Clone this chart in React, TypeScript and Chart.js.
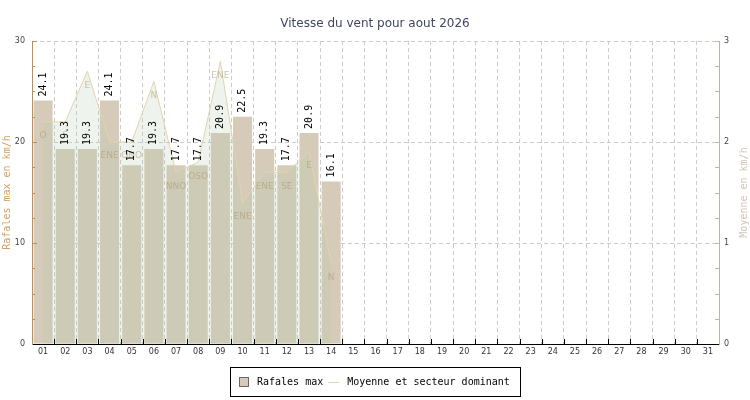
import React, { useEffect, useRef } from 'react';
import { Chart, registerables } from 'chart.js';

Chart.register(...registerables);

const days = ['01', '02', '03', '04', '05', '06', '07', '08', '09', '10', '11', '12', '13', '14', '15', '16',
  '17', '18', '19', '20', '21', '22', '23', '24', '25', '26', '27', '28', '29', '30', '31'];

const gusts: (number | null)[] = [24.1, 19.3, 19.3, 24.1, 17.7, 19.3, 17.7, 17.7, 20.9, 22.5, 19.3, 17.7, 20.9, 16.1,
  null, null, null, null, null, null, null, null, null, null, null, null, null, null, null, null, null];

const meanSpeed: (number | null)[] = [2.2, 2.2, 2.7, 2.0, 2.0, 2.6, 1.7, 1.8, 2.8, 1.4, 1.7, 1.7, 1.9, 0.8,
  null, null, null, null, null, null, null, null, null, null, null, null, null, null, null, null, null];

const directions: string[] = ['O', 'S', 'E', 'ENE', 'ONO', 'N', 'NNO', 'OSO', 'ENE', 'ENE', 'ENE', 'SE', 'E', 'N'];

const seriesNames = ['Rafales max', 'Moyenne et secteur dominant'];
const chartTitle = 'Vitesse du vent pour aout 2026';
const leftAxisTitle = 'Rafales max en km/h';
const rightAxisTitle = 'Moyenne en km/h';

const BAR_COLOR = '#d6cbb9';
const AREA_FILL = 'rgba(168,198,166,0.2)';
const AREA_LINE = '#e2d3b0';
const LEFT_AXIS = '#c88c46';
const LEFT_TITLE = '#d49e62';
const RIGHT_AXIS = '#beb4a5';
const RIGHT_TITLE = '#cfc5b6';
const GRID = '#cccccc';
const MONO = '"DejaVu Sans Mono", monospace';
const SANS = '"DejaVu Sans", sans-serif';

const decorPlugin = {
  id: 'decor',
  afterDatasetsDraw(chart: any) {
    const ctx = chart.ctx as CanvasRenderingContext2D;
    // direction labels under the mean points
    const lineMeta = chart.getDatasetMeta(1);
    ctx.save();
    ctx.font = `9px ${SANS}`;
    ctx.fillStyle = 'rgba(170,150,110,0.55)';
    ctx.textAlign = 'center';
    ctx.textBaseline = 'middle';
    directions.forEach((d, i) => {
      const p = lineMeta.data[i];
      if (!p || meanSpeed[i] == null) return;
      ctx.fillText(d, p.x, p.y + 14);
    });
    ctx.restore();

    // value labels above bars
    const barMeta = chart.getDatasetMeta(0);
    ctx.save();
    ctx.font = `10px ${MONO}`;
    ctx.fillStyle = '#000';
    ctx.textAlign = 'left';
    ctx.textBaseline = 'middle';
    gusts.forEach((v, i) => {
      if (v == null) return;
      const b = barMeta.data[i];
      ctx.save();
      ctx.translate(b.x, b.y - 4);
      ctx.rotate(-Math.PI / 2);
      ctx.fillText(v.toFixed(1), 0, 0);
      ctx.restore();
    });
    ctx.restore();
  },
  afterDraw(chart: any) {
    const ctx = chart.ctx as CanvasRenderingContext2D;
    const { left, right, top, bottom } = chart.chartArea;
    const xs = chart.scales.x;
    const ys = chart.scales.y;
    const y1 = chart.scales.y1;

    ctx.save();
    ctx.lineWidth = 1;
    // x inward ticks at category boundaries
    ctx.strokeStyle = '#000';
    const step = xs.getPixelForValue(1) - xs.getPixelForValue(0);
    ctx.beginPath();
    for (let i = 1; i < days.length; i++) {
      const px = Math.round(xs.getPixelForValue(i) - step / 2) + 0.5;
      ctx.moveTo(px, bottom);
      ctx.lineTo(px, bottom - 5);
    }
    ctx.stroke();

    // left axis inward ticks
    ctx.strokeStyle = LEFT_AXIS;
    ctx.beginPath();
    for (let v = 2.5; v <= ys.max + 0.001; v += 2.5) {
      const py = Math.round(ys.getPixelForValue(v)) + 0.5;
      const len = Math.abs(v % 10) < 0.001 ? 5 : 3;
      ctx.moveTo(left, py);
      ctx.lineTo(left + len, py);
    }
    ctx.stroke();

    // right axis inward ticks
    ctx.strokeStyle = RIGHT_AXIS;
    ctx.beginPath();
    for (let v = 0.25; v <= y1.max + 0.001; v += 0.25) {
      const py = Math.round(y1.getPixelForValue(v)) + 0.5;
      ctx.moveTo(right, py);
      ctx.lineTo(right - 4, py);
    }
    ctx.stroke();

    // right axis title (reads bottom to top)
    ctx.font = `10px ${MONO}`;
    ctx.fillStyle = RIGHT_TITLE;
    ctx.textAlign = 'center';
    ctx.textBaseline = 'middle';
    ctx.save();
    ctx.translate(chart.width - 6, (top + bottom) / 2);
    ctx.rotate(-Math.PI / 2);
    ctx.fillText(rightAxisTitle, 0, 0);
    ctx.restore();

    // legend box
    ctx.font = `10px ${MONO}`;
    const w1 = ctx.measureText(seriesNames[0]).width;
    const w2 = ctx.measureText(seriesNames[1]).width;
    const padL = 9, sq = 10, gap1 = 8, gap2 = 5, lineLen = 11, gap3 = 8, padR = 10;
    const total = padL + sq + gap1 + w1 + gap2 + lineLen + gap3 + w2 + padR;
    const bx = Math.round(chart.width / 2 - total / 2);
    const by = 367;
    const bh = 29;
    ctx.strokeStyle = '#000';
    ctx.strokeRect(bx + 0.5, by + 0.5, Math.round(total), bh);
    const cy = by + bh / 2 + 0.5;
    let cx = bx + padL;
    ctx.fillStyle = BAR_COLOR;
    ctx.fillRect(cx, cy - 5, sq, sq);
    ctx.strokeStyle = '#666';
    ctx.strokeRect(cx + 0.5, cy - 4.5, sq - 1, sq - 1);
    cx += sq + gap1;
    ctx.fillStyle = '#000';
    ctx.textAlign = 'left';
    ctx.fillText(seriesNames[0], cx, cy);
    cx += w1 + gap2;
    ctx.strokeStyle = AREA_LINE;
    ctx.beginPath();
    ctx.moveTo(cx, Math.round(cy) + 0.5);
    ctx.lineTo(cx + lineLen, Math.round(cy) + 0.5);
    ctx.stroke();
    cx += lineLen + gap3;
    ctx.fillStyle = '#000';
    ctx.fillText(seriesNames[1], cx, cy);
    ctx.restore();
  },
};

export default function App() {
  const canvasRef = useRef<HTMLCanvasElement | null>(null);

  useEffect(() => {
    document.body.style.margin = '0';
    const canvas = canvasRef.current;
    if (!canvas) return;
    const chart = new Chart(canvas, {
      type: 'bar',
      data: {
        labels: days,
        datasets: [
          {
            type: 'bar',
            label: seriesNames[0],
            data: gusts,
            backgroundColor: BAR_COLOR,
            borderWidth: 0,
            barPercentage: 0.86,
            categoryPercentage: 1.0,
            yAxisID: 'y',
            order: 2,
          },
          {
            type: 'line',
            label: seriesNames[1],
            data: meanSpeed,
            borderColor: AREA_LINE,
            borderWidth: 1,
            backgroundColor: AREA_FILL,
            fill: 'origin',
            pointRadius: 0,
            tension: 0,
            spanGaps: false,
            yAxisID: 'y1',
            order: 1,
          },
        ],
      } as any,
      plugins: [decorPlugin],
      options: {
        responsive: false,
        animation: false,
        devicePixelRatio: 1,
        events: [],
        layout: { padding: { left: 0, right: 0, top: 0, bottom: 36 } },
        plugins: {
          legend: { display: false },
          tooltip: { enabled: false },
          title: {
            display: true,
            text: chartTitle,
            color: '#404560',
            font: { family: SANS, size: 12, weight: 'normal' },
            padding: { top: 17, bottom: 9.6 },
          },
        },
        scales: {
          x: {
            type: 'category',
            offset: true,
            grid: {
              offset: true,
              drawTicks: false,
              color: (c: any) => (c.index === 0 ? 'rgba(0,0,0,0)' : GRID),
            },
            border: { color: '#000', width: 1, dash: [4, 3] },
            ticks: {
              color: '#333',
              font: { family: SANS, size: 8 },
              padding: 3,
              maxRotation: 0,
              autoSkip: false,
            },
            afterFit: (s: any) => { s.height = 20; },
          },
          y: {
            position: 'left',
            min: 0,
            max: 30,
            grid: {
              drawTicks: false,
              color: (c: any) => (c.tick && c.tick.value === 0 ? 'rgba(0,0,0,0)' : GRID),
            },
            border: { color: LEFT_AXIS, width: 1, dash: [4, 3] },
            ticks: {
              stepSize: 10,
              color: '#444',
              font: { family: SANS, size: 8 },
              padding: 7,
            },
            title: {
              display: true,
              text: leftAxisTitle,
              color: LEFT_TITLE,
              font: { family: MONO, size: 10 },
              padding: { top: 1, bottom: 0 },
            },
            afterFit: (s: any) => { s.width = 32; },
          },
          y1: {
            position: 'right',
            min: 0,
            max: 3,
            grid: { display: false, drawTicks: false },
            border: { color: RIGHT_AXIS, width: 1 },
            ticks: {
              stepSize: 1,
              color: '#444',
              font: { family: SANS, size: 8 },
              padding: 5,
            },
            afterFit: (s: any) => { s.width = 31; },
          },
        },
      } as any,
    });
    return () => chart.destroy();
  }, []);

  return (
    <div style={{ position: 'absolute', left: 0, top: 0, width: 750, height: 400, background: '#fff' }}>
      <canvas ref={canvasRef} width={750} height={400} style={{ display: 'block', width: 750, height: 400 }} />
    </div>
  );
}
